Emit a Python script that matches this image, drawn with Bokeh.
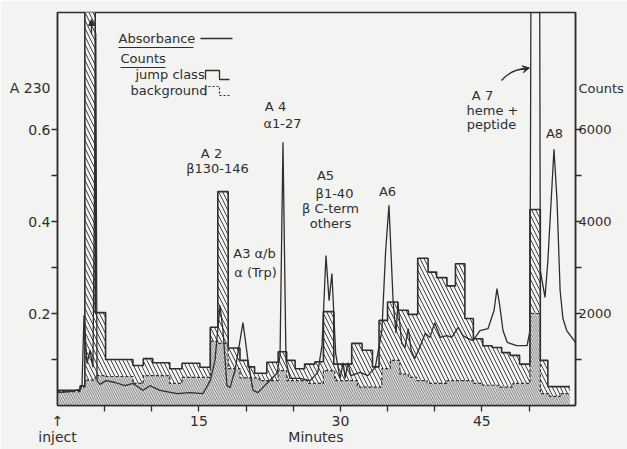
from bokeh.plotting import figure
from bokeh.models import (Range1d, LinearAxis, FixedTicker, Label, Arrow, NormalHead, VeeHead,
                          AllLabels)
from bokeh.embed import file_html
from bokeh.resources import INLINE

# ---------------- data ----------------
minutes_ticks = [15, 30, 45]
minutes_minor = [5, 10, 15, 20, 25, 30, 35, 40, 45, 50]
a230_ticks = [0.2, 0.4, 0.6]
a230_minor = [0.1, 0.2, 0.3, 0.4, 0.5, 0.6]
counts_ticks = [2000, 4000, 6000]
counts_minor = [1000, 2000, 3000, 4000, 5000, 6000]

# absorbance trace (minutes, A230)
abs_t = [0, 1.33, 2.39, 2.6, 2.81, 3.13, 3.45, 3.76, 4.06, 4.19, 4.5, 5.14, 6.1, 7.16, 8.0,
         9.07, 9.8, 10.87, 12.67, 14.05, 15.43, 16.2, 16.7, 17.23, 17.55, 17.97, 18.3, 18.82,
         19.67, 20.2, 20.73, 21.26, 22.2, 23.28, 23.6, 23.91, 24.23, 24.65, 25.7, 26.8, 27.6,
         28.05, 28.47, 28.8, 29.1, 29.5, 29.96, 30.3, 30.5, 30.8, 31.1, 32.1, 32.9, 33.7, 34.4,
         34.8, 35.15, 35.6, 35.9, 36.1, 36.5, 36.85, 37.2, 37.5, 37.9, 38.4, 39.0, 39.5, 40.0,
         40.6, 41.3, 41.8, 42.5, 43.0, 43.5, 44.06, 44.8, 45.65, 46.3, 46.6, 46.9, 47.24, 47.7,
         48.7, 49.8, 50.1, 50.25, 51.1, 51.2, 51.7, 52.0, 52.65, 52.97, 53.3, 53.6, 54.0, 54.93]
abs_a = [0.028, 0.030, 0.035, 0.043, 0.196, 0.091, 0.12, 0.083, 0.81, 0.054, 0.046, 0.054, 0.05,
         0.043, 0.048, 0.033, 0.043, 0.033, 0.026, 0.028, 0.026, 0.054, 0.098, 0.217, 0.163,
         0.043, 0.039, 0.076, 0.18, 0.098, 0.033, 0.028, 0.048, 0.07, 0.109, 0.572, 0.098, 0.059,
         0.059, 0.054, 0.072, 0.13, 0.326, 0.228, 0.287, 0.113, 0.059, 0.093, 0.059, 0.093, 0.065,
         0.072, 0.065, 0.083, 0.163, 0.337, 0.435, 0.222, 0.157, 0.222, 0.135, 0.126, 0.167, 0.12,
         0.102, 0.126, 0.157, 0.148, 0.18, 0.148, 0.152, 0.148, 0.17, 0.152, 0.146, 0.141, 0.163,
         0.167, 0.207, 0.254, 0.217, 0.163, 0.137, 0.13, 0.13, 0.163, 1.2, 1.2, 0.293, 0.235,
         0.315, 0.557, 0.446, 0.25, 0.189, 0.163, 0.137]

# jump class counts: bin edges (minutes) and counts per bin
jump_edges = [0, 2.4, 2.9, 4.0, 5.1, 8.0, 9.1, 10.1, 11.9, 13.2, 15.1, 16.2, 17.0, 18.1, 19.35,
              20.2, 20.9, 22.2, 23.4, 24.3, 25.2, 26.2, 27.3, 28.2, 29.3, 31.2, 32.3, 33.4, 34.1,
              35.0, 36.1, 37.2, 38.2, 39.3, 40.2, 41.3, 42.2, 43.2, 44.1, 45.1, 46.1, 47.1, 48.0,
              49.0, 50.1, 51.2, 52.0, 54.35]
jump_counts = [330, 430, 9500, 2020, 1000, 870, 1020, 930, 800, 920, 830, 1700, 4650, 1250, 980,
               840, 700, 940, 1170, 980, 800, 900, 950, 2040, 900, 1350, 1200, 840, 1850, 2250,
               2070, 1980, 3200, 2900, 2780, 2600, 3080, 1890, 1450, 1300, 1260, 1150, 1090, 900,
               4260, 980, 410]

# background counts: bin edges (minutes) and counts per bin
bg_edges = [0, 2.4, 2.9, 4.0, 5.1, 8.0, 9.1, 11.9, 13.2, 16.2, 17.0, 18.1, 19.35, 21.4, 23.4,
            24.3, 26.5, 28.2, 29.4, 31.8, 34.4, 35.3, 36.3, 37.2, 38.1, 39.2, 41.3, 44.1, 45.1,
            46.9, 48.3, 50.1, 51.2, 52.2, 53.3, 54.35]
bg_counts = [300, 400, 550, 650, 630, 480, 650, 480, 610, 1400, 1350, 800, 600, 540, 760, 540,
             480, 760, 540, 400, 800, 980, 680, 610, 540, 480, 540, 480, 440, 400, 480, 2000,
             260, 200, 260]

# ---------------- layout / style ----------------
W, H = 627, 449
BL, BR, BT, BB = 57, 52, 12, 44
PX_MIN = 9.43      # pixels per minute
PX_A = 460.0       # pixels per absorbance unit
COUNTS_PER_A = 10000
X_END = (W - BL - BR) / PX_MIN
Y_END = (H - BT - BB) / PX_A
TITLE_A = 0.69     # height (A230 units) at which the two axis titles sit
TITLE_MIN = 27.4   # position (minutes) under which "Minutes" is centred

INK = "#2e2e2e"
PAPER = "#f3f3f1"
FONT = "DejaVu Sans"


def tx(px):
    return (px - BL) / PX_MIN


def ay(py):
    return (H - BB - py) / PX_A


p = figure(width=W, height=H, x_range=Range1d(0, X_END), y_range=Range1d(0, Y_END),
           output_backend="svg", toolbar_location=None,
           min_border_left=BL, min_border_right=BR, min_border_top=BT, min_border_bottom=BB)
p.extra_y_ranges = {"counts": Range1d(0, Y_END * COUNTS_PER_A)}
p.background_fill_color = PAPER
p.border_fill_color = PAPER
p.outline_line_color = INK
p.outline_line_width = 1.5
p.grid.visible = False

xa = p.xaxis[0]
ya = p.yaxis[0]
xa.ticker = FixedTicker(ticks=[0] + minutes_ticks + [TITLE_MIN], minor_ticks=minutes_minor)
xa.major_label_overrides = {0: "↑\ninject", TITLE_MIN: "\nMinutes"}
xa.major_label_policy = AllLabels()
ya.ticker = FixedTicker(ticks=a230_ticks + [TITLE_A], minor_ticks=a230_minor)
ya.major_label_overrides = {TITLE_A: "A 230"}
right = LinearAxis(y_range_name="counts",
                   ticker=FixedTicker(ticks=counts_ticks + [TITLE_A * COUNTS_PER_A],
                                      minor_ticks=counts_minor))
right.major_label_overrides = {TITLE_A * COUNTS_PER_A: "Counts"}
p.add_layout(right, "right")

for ax in [xa, ya, right]:
    ax.axis_line_color = INK
    ax.axis_line_width = 1.5
    ax.major_tick_line_color = None
    ax.minor_tick_line_color = INK
    ax.minor_tick_line_width = 1.3
    ax.major_tick_in = 0
    ax.major_tick_out = 0
    # outward tick of 6 px drawn via a negative inward length
    ax.minor_tick_in = -6
    ax.minor_tick_out = 0
    ax.major_label_text_font = FONT
    ax.major_label_text_font_size = "14px"
    ax.major_label_text_color = INK

ya.major_label_standoff = 7
xa.major_label_standoff = 7
xa.major_label_text_line_height = 1.0
right.major_label_text_font_size = "13px"
right.major_label_standoff = 3

# counts: jump class (sparse hatch) and background (dense hatch)
jx = jump_edges
jy = jump_counts + [jump_counts[-1]]
bx = bg_edges
by = bg_counts + [bg_counts[-1]]

p.varea_step(x=jx, y1=0, y2=jy, step_mode="after", y_range_name="counts",
             fill_color=PAPER, hatch_pattern="\\", hatch_scale=8, hatch_weight=1.0,
             hatch_color="#444444")
p.varea_step(x=bx, y1=0, y2=by, step_mode="after", y_range_name="counts",
             fill_color=PAPER, hatch_pattern="\\", hatch_scale=4.5, hatch_weight=0.8,
             hatch_color="#4a4a4a")
p.step(bx, by, mode="after", y_range_name="counts", line_color=INK, line_width=1.2,
       line_dash="3 2")
p.step(jx, jy, mode="after", y_range_name="counts", line_color=INK, line_width=1.6)

# absorbance
p.line(abs_t, abs_a, line_color=INK, line_width=1.3)

# off-scale arrow in the first bar
p.add_layout(Arrow(end=NormalHead(size=6, fill_color=INK, line_color=INK),
                   x_start=tx(91), y_start=ay(34), x_end=tx(91), y_end=ay(19),
                   line_color=INK, line_width=1.3))

# curved arrow to A7
p.quadratic(x0=[tx(501)], y0=[ay(80)], x1=[tx(526)], y1=[ay(68)],
            cx=[tx(510)], cy=[ay(69)], line_color=INK, line_width=1.3)
p.add_layout(Arrow(end=VeeHead(size=7, fill_color=INK, line_color=INK),
                   x_start=tx(521), y_start=ay(69), x_end=tx(529), y_end=ay(67.5),
                   line_color=INK, line_width=1.3))


def lab(text, px, py, align="center", size="13px", base="middle"):
    p.add_layout(Label(x=tx(px), y=ay(py), text=text, text_font=FONT, text_font_size=size,
                       text_color=INK, text_align=align, text_baseline=base))


# legend
lab("Absorbance", 118, 38, align="left")
p.line([tx(118), tx(193)], [ay(47), ay(47)], line_color=INK, line_width=1.2)
p.line([tx(200), tx(232)], [ay(38), ay(38)], line_color=INK, line_width=1.3)
lab("Counts", 120, 58, align="left")
p.line([tx(120), tx(165)], [ay(67), ay(67)], line_color=INK, line_width=1.2)
lab("jump class", 135, 74, align="left")
p.line([tx(205), tx(205), tx(219), tx(219), tx(229)],
       [ay(79), ay(70), ay(70), ay(79), ay(79)], line_color=INK, line_width=1.3)
lab("background", 130, 90, align="left")
p.line([tx(205), tx(205), tx(219), tx(219), tx(229)],
       [ay(95), ay(86), ay(86), ay(95), ay(95)], line_color=INK, line_width=1.2,
       line_dash="2 2")

# peak labels
lab("A 2", 211, 153)
lab("β130-146", 217, 168)
lab("A 4", 275, 106)
lab("α1-27", 282, 123)
lab("A3 α/b", 254, 253)
lab("α (Trp)", 255, 272)
lab("A5", 325, 175)
lab("β1-40", 334, 193)
lab("β C-term", 330, 208)
lab("others", 330, 223)
lab("A6", 387, 191)
lab("A 7", 482, 95)
lab("heme +", 492, 110)
lab("peptide", 491, 124)
lab("A8", 554, 133)

open("out.html", "w").write(file_html(p, INLINE))
